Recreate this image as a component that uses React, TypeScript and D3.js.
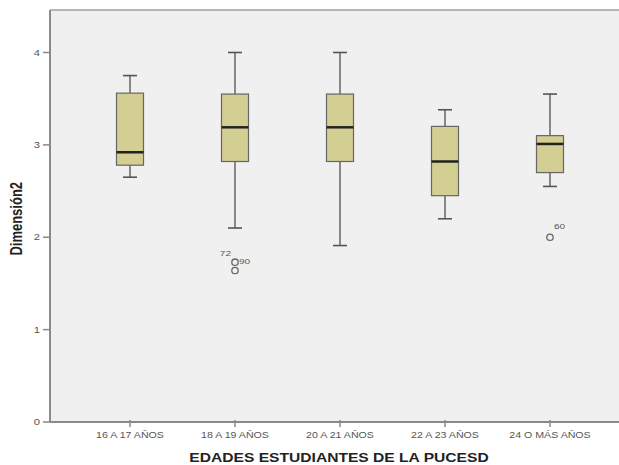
import React from "react";
import * as d3 from "d3";

const categories = ["16 A 17 AÑOS", "18 A 19 AÑOS", "20 A 21 AÑOS", "22 A 23 AÑOS", "24 O MÁS AÑOS"];
const whiskerLow = [2.65, 2.1, 1.91, 2.2, 2.55];
const q1 = [2.78, 2.82, 2.82, 2.45, 2.7];
const median = [2.92, 3.19, 3.19, 2.82, 3.01];
const q3 = [3.56, 3.55, 3.55, 3.2, 3.1];
const whiskerHigh = [3.75, 4.0, 4.0, 3.38, 3.55];
const outlierCats = ["18 A 19 AÑOS", "18 A 19 AÑOS", "24 O MÁS AÑOS"];
const outlierValues = [1.73, 1.64, 2.0];
const outlierLabels = ["72", "90", "60"];
const yTicks = [0, 1, 2, 3, 4];

const W = 619;
const H = 465;
const left = 50;
const top = 10;
const bottom = 422;
const rightEnd = 630;
const SX = 1.25;

export default function App() {
  const x = d3.scalePoint<string>().domain(categories).range([130, 550]);
  const y = d3.scaleLinear().domain([0, 4.46]).range([bottom, top]);
  const boxW = 27;
  const capW = 14;
  const font = "'Liberation Sans', Arial, sans-serif";
  const labelOffsets: Record<string, [number, number, string]> = {
    "72": [-4, -9, "end"],
    "90": [4, -9, "start"],
    "60": [4, -11, "start"],
  };
  const st = (tx: number, ty: number) => `translate(${tx},${ty}) scale(${SX},1)`;

  return (
    <div style={{ position: "fixed", left: 0, top: 0, width: W, height: H, background: "#fff" }}>
      <svg width={W} height={H} style={{ display: "block" }} fontFamily={font}>
        <rect x={left} y={top} width={rightEnd - left} height={bottom - top} fill="#f0f0f0" />
        <line x1={left} x2={rightEnd} y1={top} y2={top} stroke="#a0a0a0" strokeWidth={1.5} />
        {/* y axis */}
        <line x1={left} x2={left} y1={top} y2={bottom} stroke="#8a8a8a" strokeWidth={2} />
        {yTicks.map((t) => (
          <g key={t}>
            <line x1={left - 7} x2={left} y1={y(t)} y2={y(t)} stroke="#8a8a8a" strokeWidth={1.5} />
            <text transform={st(left - 10, y(t))} dy="0.35em" fontSize={9} fill="#555" textAnchor="end">
              {t}
            </text>
          </g>
        ))}
        {/* x axis */}
        <line x1={left} x2={rightEnd} y1={bottom} y2={bottom} stroke="#8a8a8a" strokeWidth={2} />
        {categories.map((c) => (
          <g key={c}>
            <line x1={x(c)!} x2={x(c)!} y1={bottom - 2} y2={bottom + 5} stroke="#8a8a8a" strokeWidth={1.5} />
            <text transform={st(x(c)!, 438)} fontSize={8.5} fill="#555" textAnchor="middle">
              {c}
            </text>
          </g>
        ))}
        <text transform={st(339, 462)} fontSize={12.5} fontWeight="bold" fill="#222" textAnchor="middle">
          EDADES ESTUDIANTES DE LA PUCESD
        </text>
        <text
          transform={`translate(22,${y(2.2)}) rotate(-90) scale(1,${SX})`}
          fontSize={13}
          fontWeight="bold"
          fill="#222"
          textAnchor="middle"
        >
          Dimensión2
        </text>
        {/* boxes */}
        {categories.map((c, i) => {
          const cx = x(c)!;
          return (
            <g key={"b" + c}>
              <line x1={cx} x2={cx} y1={y(whiskerHigh[i])} y2={y(q3[i])} stroke="#6e6e6e" strokeWidth={1.6} />
              <line x1={cx} x2={cx} y1={y(q1[i])} y2={y(whiskerLow[i])} stroke="#6e6e6e" strokeWidth={1.6} />
              <line x1={cx - capW / 2} x2={cx + capW / 2} y1={y(whiskerHigh[i])} y2={y(whiskerHigh[i])} stroke="#555" strokeWidth={1.6} />
              <line x1={cx - capW / 2} x2={cx + capW / 2} y1={y(whiskerLow[i])} y2={y(whiskerLow[i])} stroke="#555" strokeWidth={1.6} />
              <rect
                x={cx - boxW / 2}
                y={y(q3[i])}
                width={boxW}
                height={y(q1[i]) - y(q3[i])}
                fill="#d3ce92"
                stroke="#666"
                strokeWidth={1.2}
              />
              <line x1={cx - boxW / 2} x2={cx + boxW / 2} y1={y(median[i])} y2={y(median[i])} stroke="#222" strokeWidth={2.5} />
            </g>
          );
        })}
        {/* outliers */}
        {outlierValues.map((v, i) => {
          const cx = x(outlierCats[i])!;
          const cy = y(v);
          const [dx, dy, anchor] = labelOffsets[outlierLabels[i]];
          return (
            <g key={"o" + i}>
              <circle cx={cx} cy={cy} r={3.2} fill="none" stroke="#666" strokeWidth={1.3} />
              <text transform={st(cx + dx, cy + dy)} dy="0.35em" fontSize={8} fill="#555" textAnchor={anchor}>
                {outlierLabels[i]}
              </text>
            </g>
          );
        })}
      </svg>
    </div>
  );
}
